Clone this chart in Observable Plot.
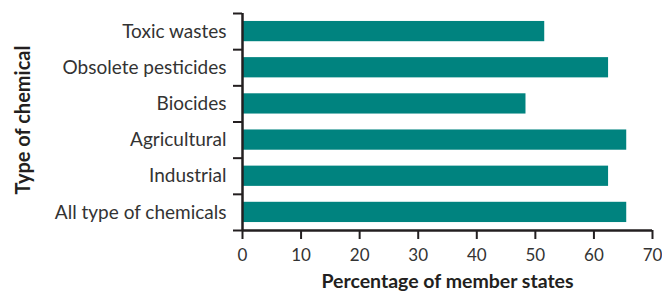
<!DOCTYPE html>
<html>
<head>
<meta charset="utf-8">
<script src="https://cdn.jsdelivr.net/npm/d3@7"></script>
<script src="https://cdn.jsdelivr.net/npm/@observablehq/plot@0.6"></script>
<style>
  html, body { margin: 0; padding: 0; background: #fff; }
  svg { display: block; }
</style>
</head>
<body>
<div id="chart"></div>
<script>
const categories = ["Toxic wastes", "Obsolete pesticides", "Biocides", "Agricultural", "Industrial", "All type of chemicals"];
const values = [51.6, 62.5, 48.4, 65.6, 62.5, 65.6];
const xTicks = [0, 10, 20, 30, 40, 50, 60, 70];

const data = categories.map((c, i) => ({category: c, value: values[i], i}));
const ink = "#231f20";
const font = "Lato, 'Open Sans', sans-serif";

const chart = Plot.plot({
  width: 662,
  height: 293,
  marginLeft: 242,
  marginRight: 10,
  marginTop: 13,
  marginBottom: 63,
  style: {fontFamily: font, background: "#fff"},
  x: {domain: [0, 70]},
  y: {domain: [categories.length, 0]},
  marks: [
    Plot.rectX(data, {x1: 0, x2: "value", y1: d => d.i + 0.22, y2: d => d.i + 0.78, fill: "#00837f"}),
    Plot.axisX({ticks: xTicks, tickSize: 9, tickPadding: 9, stroke: ink, strokeWidth: 2, fontSize: 17, color: "#333", label: null}),
    Plot.axisY({ticks: d3.range(0, categories.length + 1), tickSize: 9, stroke: ink, strokeWidth: 2, tickFormat: () => "", label: null}),
    Plot.axisY({ticks: categories.map((c, i) => i + 0.5), tickSize: 9, tickPadding: 7, strokeOpacity: 0, fontSize: 19, color: "#333", tickFormat: (v) => categories[Math.floor(v)], label: null}),
    Plot.ruleX([0], {stroke: ink, strokeWidth: 2.5}),
    Plot.ruleY([categories.length], {stroke: ink, strokeWidth: 2.5}),
    Plot.text(["Percentage of member states"], {frameAnchor: "bottom", dy: 57, fontSize: 19.5, fontWeight: "bold", fill: ink}),
    Plot.text(["Type of chemical"], {frameAnchor: "left", textAnchor: "middle", dx: -219, dy: -2, rotate: -90, fontSize: 20, fontWeight: "bold", fill: ink})
  ]
});
document.getElementById("chart").appendChild(chart);
</script>
</body>
</html>
